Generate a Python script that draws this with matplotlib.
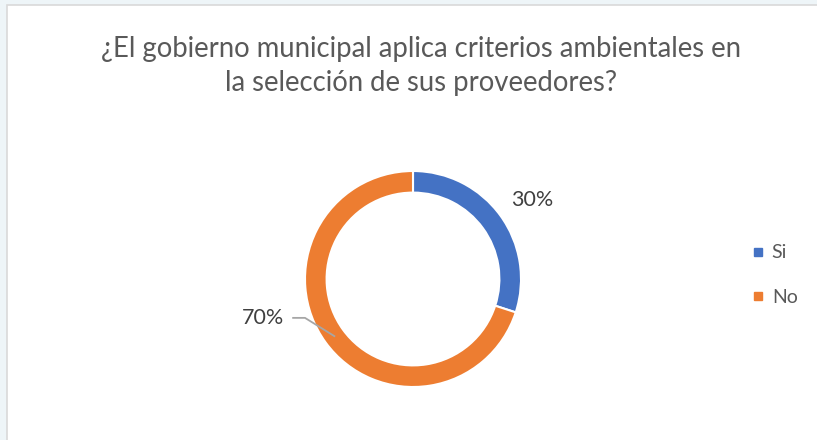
import matplotlib
matplotlib.use("Agg", force=True)
import matplotlib.pyplot as plt
import numpy as np
from matplotlib.patches import Rectangle

title = "¿El gobierno municipal aplica criterios ambientales en\nla selección de sus proveedores?"
categories = ["Si", "No"]
shares = [30, 70]
colors = ["#4472C4", "#ED7D31"]

W, H = 817, 440
plt.rcParams["font.family"] = ["Lato", "DejaVu Sans"]
fig = plt.figure(figsize=(W / 100, H / 100), dpi=100)
fig.patch.set_facecolor("#eef5f8")

# white chart area with thin border
fig.patches.append(Rectangle((7 / W, -0.1), 1.1, (H - 5) / H + 0.1, transform=fig.transFigure,
                             facecolor="white", edgecolor="#d9d9d9", linewidth=1.2, zorder=-5))

fig.text(421 / W, 1 - 66 / H, title, ha="center", va="center", fontsize=19.8,
         color="#595959", linespacing=1.36)

cx, cy, R = 413, 279, 108
ax = fig.add_axes([(cx - R) / W, (H - cy - R) / H, 2 * R / W, 2 * R / H])
ax.patch.set_alpha(0)
wedges, _ = ax.pie(shares, colors=colors, startangle=90, counterclock=False, radius=1,
                   wedgeprops=dict(width=0.2, edgecolor="white", linewidth=1.5))
ax.set_xlim(-1, 1)
ax.set_ylim(-1, 1)
ax.set_aspect("equal")
ax.axis("off")

for w, s in zip(wedges, shares):
    mid = np.deg2rad((w.theta1 + w.theta2) / 2)
    if np.cos(mid) > 0:
        ax.text(1.10, 0.73, f"{s}%", ha="center", va="center", fontsize=15.5, color="#404040")
    else:
        px, py = 0.9 * np.cos(mid), 0.9 * np.sin(mid)
        ax.plot([-1.11, -1.0, px], [-0.36, -0.36, py], color="#a6a6a6", lw=1.3, clip_on=False)
        ax.text(-1.39, -0.36, f"{s}%", ha="center", va="center", fontsize=15.5, color="#404040")

handles = [plt.Line2D([], [], marker="s", ls="", color=c, markersize=6) for c in colors]
fig.legend(handles, categories, loc="center left", bbox_to_anchor=(731 / W, 1 - 275 / H),
           frameon=False, fontsize=14, labelspacing=1.4, handletextpad=0.2,
           labelcolor="#595959", handlelength=1.0)

fig.savefig("out.png", dpi=100)
